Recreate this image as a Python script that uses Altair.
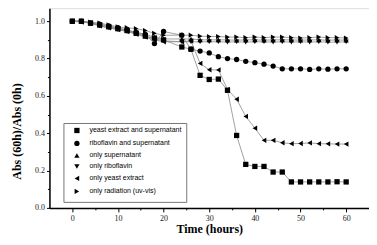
import altair as alt
import pandas as pd

times = [0, 2, 4, 6, 8, 10, 12, 14, 16, 18, 20,
         24, 26, 28, 30, 32, 34, 36, 38, 40, 42, 44, 46, 48, 50, 52, 54, 56, 58, 60]

series_names = [
    "yeast extract and supernatant",
    "riboflavin and supernatant",
    "only supernatant",
    "only riboflavin",
    "only yeast extract",
    "only radiation (uv-vis)",
]
shapes = ["square", "circle", "triangle-up", "triangle-down", "triangle-left", "triangle-right"]

ye_sup = [1.00, 1.00, 0.99, 0.98, 0.97, 0.96, 0.95, 0.935, 0.92, 0.91, 0.90,
          0.862, 0.85, 0.71, 0.688, 0.69, 0.63, 0.388, 0.233, 0.222, 0.222, 0.192, 0.192,
          0.139, 0.139, 0.139, 0.139, 0.139, 0.14, 0.139]
ribo_sup = [1.00, 1.00, 0.99, 0.985, 0.975, 0.965, 0.955, 0.94, 0.93, 0.88, 0.945,
            0.925, 0.85, 0.84, 0.83, 0.81, 0.80, 0.795, 0.785, 0.778, 0.77, 0.76, 0.745,
            0.745, 0.745, 0.742, 0.745, 0.743, 0.745, 0.745]
only_sup = [1.00, 1.00, 0.99, 0.98, 0.97, 0.96, 0.95, 0.94, 0.93, 0.915, 0.905,
            0.905, 0.905, 0.90, 0.90, 0.90, 0.90, 0.898, 0.90, 0.90, 0.898, 0.90, 0.90,
            0.90, 0.898, 0.90, 0.90, 0.898, 0.90, 0.898]
only_ribo = [1.00, 1.00, 0.99, 0.975, 0.965, 0.955, 0.945, 0.935, 0.92, 0.905, 0.895,
             0.89, 0.89, 0.89, 0.89, 0.89, 0.888, 0.89, 0.888, 0.89, 0.89, 0.888, 0.89,
             0.888, 0.89, 0.888, 0.89, 0.888, 0.888, 0.89]
only_ye = [1.00, 0.995, 0.99, 0.975, 0.965, 0.955, 0.945, 0.93, 0.915, 0.90, 0.89,
           0.89, 0.895, 0.774, 0.74, 0.739, 0.635, 0.582, 0.49, 0.427, 0.362, 0.362, 0.349,
           0.344, 0.345, 0.348, 0.344, 0.343, 0.342, 0.342]
only_rad = [1.00, 1.00, 0.995, 0.99, 0.98, 0.97, 0.965, 0.96, 0.95, 0.935, 0.925,
            0.925, 0.925, 0.92, 0.918, 0.918, 0.915, 0.915, 0.912, 0.915, 0.912, 0.915, 0.915,
            0.912, 0.91, 0.912, 0.915, 0.912, 0.912, 0.91]

all_values = [ye_sup, ribo_sup, only_sup, only_ribo, only_ye, only_rad]

x_major = [0, 10, 20, 30, 40, 50, 60]
x_minor = [5, 15, 25, 35, 45, 55]
y_major = [0.0, 0.2, 0.4, 0.6, 0.8, 1.0]
y_minor = [0.1, 0.3, 0.5, 0.7, 0.9]

rows = []
for name, vals in zip(series_names, all_values):
    for t, v in zip(times, vals):
        rows.append({"series": name, "time": t, "value": v})
df = pd.DataFrame(rows)

serif = "Liberation Serif"
xscale = alt.Scale(domain=[-5, 65], nice=False, zero=False)
yscale = alt.Scale(domain=[0, 1.07], nice=False, zero=False)

x_axis = alt.Axis(values=x_major, format="d", grid=False, tickSize=4, tickColor="black",
                  domainColor="black", domainWidth=1.5, tickWidth=1,
                  labelFont=serif, labelFontSize=8, labelColor="#222", labelPadding=3,
                  title="Time (hours)", titleFont=serif, titleFontSize=12,
                  titleFontWeight="bold", titleColor="black", titlePadding=1)
y_axis = alt.Axis(values=y_major, format=".1f", grid=False, tickSize=3, tickColor="black",
                  domainColor="black", domainWidth=1.5, tickWidth=1,
                  labelFont=serif, labelFontSize=8, labelColor="#222", labelPadding=2,
                  title="Abs (60h)/Abs (0h)", titleFont=serif, titleFontSize=12,
                  titleFontWeight="bold", titleColor="black", titleAngle=-90,
                  titleX=-33, titleY=123, titleBaseline="middle", titleAlign="center")

x_axis_minor = alt.Axis(values=x_minor, labels=False, domain=False, grid=False, tickSize=2,
                        tickColor="black", title=None, orient="bottom")
y_axis_minor = alt.Axis(values=y_minor, labels=False, domain=False, grid=False, tickSize=2,
                        tickColor="black", title=None, orient="left")

base = alt.Chart(df)

lines = base.mark_line(color="#8a8a8a", strokeWidth=0.8).encode(
    x=alt.X("time:Q", scale=xscale, axis=x_axis),
    y=alt.Y("value:Q", scale=yscale, axis=y_axis),
    detail="series:N",
)

points = base.mark_point(filled=True, color="black", size=28, opacity=1).encode(
    x=alt.X("time:Q", scale=xscale, axis=x_axis_minor),
    y=alt.Y("value:Q", scale=yscale, axis=y_axis_minor),
    shape=alt.Shape("series:N", scale=alt.Scale(domain=series_names, range=shapes),
                    legend=alt.Legend(orient="none", legendX=14, legendY=115, title=None,
                                      strokeColor="#777", padding=4, fillColor="white",
                                      labelFont="Liberation Sans", labelFontSize=7,
                                      labelColor="black", labelLimit=300,
                                      symbolSize=28, symbolFillColor="black",
                                      symbolStrokeColor="black", symbolOffset=6,
                                      labelOffset=9, rowPadding=0)),
)

chart = alt.layer(lines, points).resolve_axis(x="independent", y="independent").properties(
    width=320, height=200,
    autosize=alt.AutoSizeParams(type="none"),
    padding={"left": 41.5, "top": 0, "right": 0, "bottom": 29},
).configure_view(stroke=None).configure(background="white")

chart.save("out.html", embed_options={"renderer": "svg", "actions": False})
